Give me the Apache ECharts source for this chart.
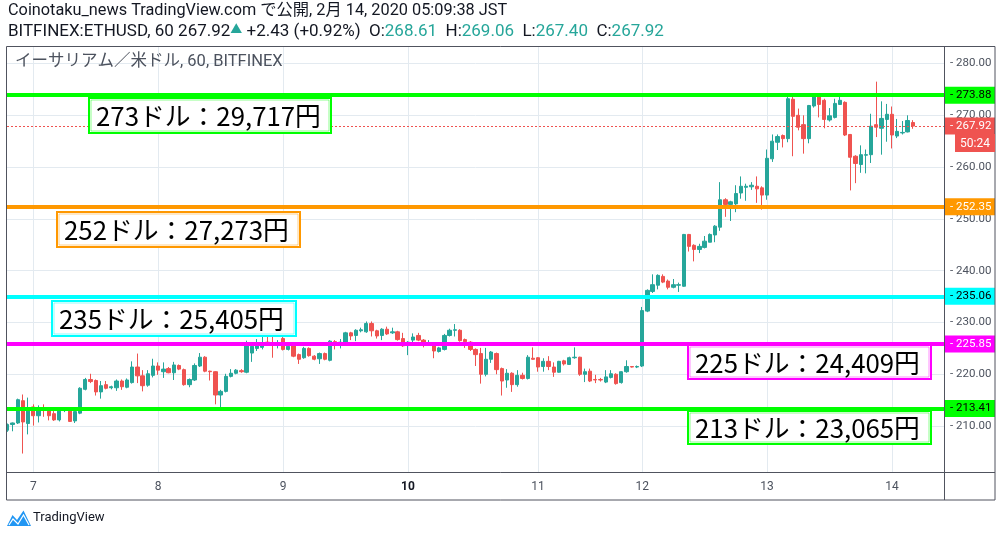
<!DOCTYPE html>
<html><head><meta charset="utf-8">
<script src="https://cdn.jsdelivr.net/npm/echarts@6/dist/echarts.min.js"></script>
<style>html,body{margin:0;padding:0;background:#fff}#c{width:1002px;height:537px}</style>
</head><body><div id="c"></div>
<script>
// ---- data (hourly candles, ETH/USD) ----
const opens = [209.2,210.3,210.6,214.9,210.5,213.7,212.0,213.3,212.9,212.4,211.2,213.0,213.0,211.0,212.5,217.1,219.0,218.8,216.6,218.0,
217.4,217.4,218.7,217.5,218.4,221.4,219.7,217.9,219.8,221.6,220.5,221.1,220.3,221.7,220.9,218.0,218.9,221.6,223.3,220.6,
220.5,216.0,216.7,219.6,220.2,220.7,220.4,224.1,225.0,225.2,226.2,225.9,225.6,226.9,224.8,225.5,223.8,223.2,225.0,223.5,
223.0,224.0,222.7,226.3,225.9,226.1,228.0,227.5,228.4,228.2,229.8,228.4,227.5,228.7,228.0,228.2,226.9,225.6,226.6,227.5,
226.6,225.9,225.6,224.4,224.8,227.5,228.5,228.5,226.7,226.2,224.8,224.0,220.0,222.9,224.0,221.1,218.9,220.2,218.0,219.8,
219.2,223.1,223.2,221.5,222.5,221.4,220.4,222.6,221.9,223.2,223.3,220.0,220.6,219.0,219.0,218.5,219.4,220.0,218.4,220.5,
221.5,221.4,221.6,232.2,236.0,237.2,238.9,238.0,236.8,237.2,237.0,247.0,244.9,244.1,244.5,245.5,246.9,248.4,253.7,252.8,
252.9,255.0,256.1,256.2,256.3,256.0,254.6,261.6,264.8,266.1,265.5,273.1,270.0,268.2,265.5,271.8,273.9,272.9,269.1,269.6,
272.1,272.5,266.3,262.1,260.5,262.3,262.4,268.2,267.5,269.2,270.2,266.0,266.6,266.8,268.61];
const closes = [210.3,210.6,215.1,210.8,213.5,212.0,213.1,213.0,212.0,211.2,212.9,213.2,210.9,212.8,217.3,219.0,218.6,216.6,217.8,217.3,
217.6,218.7,217.6,218.9,221.4,219.7,217.8,220.1,221.6,220.8,221.0,220.3,221.8,221.0,218.0,219.0,221.7,223.3,220.6,220.5,
216.0,216.7,219.6,220.2,220.8,220.5,225.6,225.4,225.6,226.0,225.8,225.6,226.1,224.8,225.4,223.5,222.9,225.0,223.6,222.9,
224.0,222.9,226.4,225.9,226.2,228.0,227.4,228.5,228.6,229.8,228.4,227.4,228.7,227.8,228.2,226.7,225.5,226.2,227.2,226.6,
225.9,226.0,224.5,225.1,227.5,228.5,228.6,226.5,226.3,224.8,223.8,220.0,222.9,224.3,220.9,218.7,220.2,218.0,219.8,219.2,
223.3,222.9,221.4,222.5,221.5,220.4,222.5,222.0,223.2,223.3,220.0,220.5,218.7,218.9,218.9,219.5,220.1,218.2,220.5,221.5,
221.4,221.5,232.3,236.2,237.3,239.1,237.8,236.8,237.3,237.3,247.0,244.7,244.1,244.7,245.7,247.0,248.6,253.7,252.8,253.3,
254.9,256.3,256.3,256.5,255.8,254.6,261.7,265.0,265.9,265.5,273.2,269.8,267.7,265.5,271.9,273.9,272.1,269.2,269.9,272.3,
272.9,266.2,261.9,260.7,262.4,262.4,267.9,267.7,269.4,270.2,266.2,266.9,266.7,269.0,267.92];
const lows = [208.9,209.0,210.4,204.7,208.4,210.1,210.7,211.8,211.1,211.0,210.9,212.7,210.8,210.6,212.3,216.9,218.3,215.9,215.3,217.1,
217.1,216.8,217.0,217.3,218.2,218.3,216.7,217.6,219.4,219.9,219.3,220.2,218.9,220.8,217.8,217.5,218.7,221.4,220.4,218.8,
214.2,213.3,216.5,219.4,220.0,220.3,220.2,222.4,224.5,224.8,225.5,223.2,225.0,224.6,224.6,223.3,222.0,223.0,223.4,222.7,
222.0,222.7,222.5,224.8,225.0,225.9,226.6,226.4,228.1,228.0,227.3,226.9,226.6,227.6,227.8,226.5,225.3,223.7,226.0,226.4,
225.2,225.6,223.1,224.2,224.6,227.3,227.3,226.3,225.1,224.5,221.6,218.2,219.6,222.2,220.0,215.9,217.4,216.6,217.6,219.0,
219.0,222.8,220.5,220.5,220.8,219.5,220.3,221.7,221.8,223.0,219.7,218.5,218.5,218.3,218.6,218.3,219.2,218.0,218.2,220.3,
221.3,221.2,221.4,232.0,235.7,236.4,237.6,236.4,236.6,235.9,236.9,243.7,241.8,243.4,244.3,245.5,245.5,247.7,250.4,249.6,
251.3,253.9,253.5,255.6,253.1,251.8,253.7,261.0,263.3,263.8,264.8,262.1,267.1,262.6,264.6,271.5,269.6,267.5,268.8,269.4,
272.0,266.0,255.5,256.9,258.9,258.8,260.8,265.8,262.4,264.9,263.6,265.6,266.3,266.7,267.40];
const highs = [210.5,210.7,215.3,216.1,215.5,214.2,214.0,214.2,213.2,212.9,213.4,213.5,213.4,212.9,217.5,219.3,220.1,219.0,218.7,218.7,
217.8,219.0,219.0,219.2,222.5,224.0,220.8,220.8,223.0,222.3,222.3,221.4,222.4,221.9,221.1,219.2,222.1,224.1,223.5,220.7,
220.6,217.0,220.1,221.0,221.0,221.0,226.5,225.6,226.8,227.5,227.8,227.6,226.6,227.5,225.8,225.7,224.0,225.3,225.2,223.7,
224.2,224.2,226.6,226.6,226.8,228.2,228.2,228.7,229.0,230.2,230.2,228.6,228.9,229.2,229.0,228.4,228.0,226.4,227.9,228.0,
226.8,226.6,225.8,225.3,227.8,228.8,229.7,228.7,226.9,226.4,225.0,225.1,225.1,224.5,224.2,221.3,221.0,220.4,220.8,220.3,
223.7,225.2,223.3,223.1,223.5,222.3,222.6,222.8,223.4,225.2,223.4,221.1,221.1,219.9,219.3,220.8,220.8,220.2,220.6,222.7,
221.6,221.7,233.0,236.4,239.3,239.3,239.3,238.3,238.4,237.7,247.1,247.1,245.1,245.2,246.7,247.2,248.8,257.1,254.0,253.5,
256.5,258.2,256.8,257.1,258.2,256.3,263.4,266.3,266.3,266.3,274.0,274.0,271.3,270.0,272.0,274.0,274.2,273.2,271.4,273.2,
273.9,272.7,266.4,262.3,264.2,263.4,270.3,276.5,272.7,272.2,271.7,269.3,268.9,270.0,269.06];

const tickIndex = [5, 29, 53, 77, 102, 122, 146, 170];          // candle index of each day start
const tickLabels = ['7', '8', '9', '10', '11', '12', '13', '14'];
const yTicks = [210, 220, 230, 240, 250, 260, 270, 280];
const levelValues = [273.88, 252.35, 235.06, 225.85, 213.41];
const noteTexts = ['273ドル：29,717円', '252ドル：27,273円', '235ドル：25,405円', '225ドル：24,409円', '213ドル：23,065円'];
const lastPrice = 267.92;
const countdown = '50:24';

// ---- styles ----
const UP = '#26a69a', DOWN = '#ef5350';
const FONT = 'Roboto, "Noto Sans CJK JP", sans-serif';
const levelStyle = [
  {c: '#00ff00', t: '#000'}, {c: '#ff9800', t: '#fff'}, {c: '#00ffff', t: '#000'},
  {c: '#ff00ff', t: '#fff'}, {c: '#00ff00', t: '#000'}
];
const noteBoxes = [[89, 98, 242, 35], [57, 212, 243, 35], [52, 301, 244, 35], [688, 345, 243, 34], [688, 411, 243, 33]];

const candleData = opens.map((o, i) => [i, o, closes[i], lows[i], highs[i]]);

const chart = echarts.init(document.getElementById('c'), null, {renderer: 'canvas'});

const lvlLabel = (txt, bg, fg) => ({
  show: true, position: 'end', distance: 0, formatter: txt,
  color: fg, backgroundColor: bg, fontSize: 11.5, fontFamily: FONT,
  padding: [3, 2, 2, 6], width: 43, lineHeight: 12
});

const markData = levelValues.map((v, k) => ({
  yAxis: v,
  lineStyle: {color: levelStyle[k].c, width: 3.8, type: 'solid', opacity: 1},
  label: lvlLabel('- ' + v.toFixed(2), levelStyle[k].c, levelStyle[k].t)
}));
markData.push({
  yAxis: lastPrice,
  lineStyle: {color: DOWN, width: 1, type: [2, 2]},
  label: lvlLabel('- ' + lastPrice.toFixed(2), DOWN, '#fff')
});

const graphics = [];
// mask left of the plot, then frame
graphics.push({type: 'rect', shape: {x: 0, y: 47, width: 6.5, height: 426}, style: {fill: '#fff'}, z: 49});
const FR = '#50535e';
graphics.push({type: 'rect', shape: {x: 6.5, y: 46.5, width: 988.5, height: 453.5}, style: {fill: 'none', stroke: FR, lineWidth: 1}, z: 50});
graphics.push({type: 'line', shape: {x1: 944.5, y1: 46.5, x2: 944.5, y2: 500}, style: {stroke: FR, lineWidth: 1}, z: 50});
graphics.push({type: 'line', shape: {x1: 6.5, y1: 472.5, x2: 995, y2: 472.5}, style: {stroke: FR, lineWidth: 1}, z: 50});
// header
graphics.push({type: 'text', left: 8, top: 3, z: 50, style: {
  text: 'Coinotaku_news TradingView.com で公開, 2月 14, 2020 05:09:38 JST',
  font: '16.3px ' + FONT, fill: '#131722'}});
graphics.push({type: 'text', left: 8, top: 23, z: 50, style: {
  text: 'BITFINEX:ETHUSD, 60 267.92{u|▲} +2.43 (+0.92%)  O:{g|268.61}  H:{g|269.06}  L:{g|267.40}  C:{g|267.92}',
  font: '17px ' + FONT, fill: '#131722',
  rich: {u: {fill: UP, fontSize: 12, fontFamily: FONT}, g: {fill: UP, fontSize: 17, fontFamily: FONT}}}});
graphics.push({type: 'text', left: 15, top: 54, z: 50, style: {
  text: 'イーサリアム／米ドル, 60, BITFINEX', font: '16.5px ' + FONT, fill: '#4c525e'}});
// notes
noteTexts.forEach((t, k) => {
  const b = noteBoxes[k];
  const col = levelStyle[k].c;
  graphics.push({type: 'rect', z: 60, shape: {x: b[0], y: b[1], width: b[2], height: b[3]},
    style: {fill: '#fff', stroke: col, lineWidth: 2}});
  graphics.push({type: 'rect', z: 61, shape: {x: b[0] + 2, y: b[1] + 2, width: b[2] - 4, height: b[3] - 4},
    style: {fill: 'none', stroke: col, lineWidth: 1, opacity: 0.45}});
  graphics.push({type: 'text', z: 62, style: {text: t, x: b[0] + 7, y: b[1] + b[3] / 2 + 1,
    textVerticalAlign: 'middle', verticalAlign: 'middle', textAlign: 'left', align: 'left',
    font: '25.8px "Noto Sans CJK JP", sans-serif', fill: '#000'}});
});
// countdown box
graphics.push({type: 'rect', z: 70, shape: {x: 955, y: 134, width: 40, height: 18}, style: {fill: DOWN}});
graphics.push({type: 'text', z: 71, style: {text: countdown, x: 975, y: 143.5, textAlign: 'center', align: 'center',
  textVerticalAlign: 'middle', verticalAlign: 'middle', font: '12px ' + FONT, fill: '#fff'}});
// logo
graphics.push({type: 'polygon', z: 50, shape: {points: [[7, 526], [12.5, 515], [17, 520], [23.5, 510.5], [31, 526]]},
  style: {fill: '#2196f3'}});
graphics.push({type: 'polyline', z: 51, shape: {points: [[9, 525], [13, 519], [18, 524], [23.5, 515], [29, 525]]},
  style: {stroke: '#ffffff', lineWidth: 1.2, fill: 'none'}});
graphics.push({type: 'text', left: 33, top: 511, z: 50, style: {text: 'TradingView', font: '13px ' + FONT, fill: '#131722'}});

chart.setOption({
  animation: false,
  textStyle: {fontFamily: FONT},
  grid: {left: 7, top: 47, width: 937, height: 425.5, show: false, containLabel: false, outerBoundsMode: 'none'},
  xAxis: {
    type: 'value', min: -0.05, max: 180,
    axisLine: {show: false},
    axisTick: {show: false, customValues: tickIndex},
    splitLine: {show: true, lineStyle: {color: '#e3eaf0', width: 1}},
    axisLabel: {
      customValues: tickIndex, color: '#4c525e', fontSize: 12, margin: 8, fontFamily: FONT,
      formatter: (v) => {
        const k = tickIndex.indexOf(Math.round(v));
        const s = k >= 0 ? tickLabels[k] : '';
        return s === '10' ? '{b|' + s + '}' : s;
      },
      rich: {b: {fontWeight: 'bold', fontSize: 12, color: '#131722', fontFamily: FONT}}
    }
  },
  yAxis: {
    type: 'value', position: 'right', min: 201.04, max: 283.19, scale: true,
    axisLine: {show: false},
    axisTick: {show: false, customValues: yTicks},
    splitLine: {show: true, lineStyle: {color: '#e3eaf0', width: 1}},
    axisLabel: {customValues: yTicks, color: '#4c525e', fontSize: 11.5, margin: 6, fontFamily: FONT,
      formatter: (v) => '- ' + v.toFixed(2)}
  },
  series: [{
    type: 'candlestick',
    data: candleData,
    barWidth: 3.8,
    clip: true,
    itemStyle: {color: UP, color0: DOWN, borderColor: UP, borderColor0: DOWN, borderWidth: 1},
    markLine: {silent: true, symbol: ['none', 'none'], animation: false, data: markData}
  }],
  graphic: graphics
});
</script></body></html>
